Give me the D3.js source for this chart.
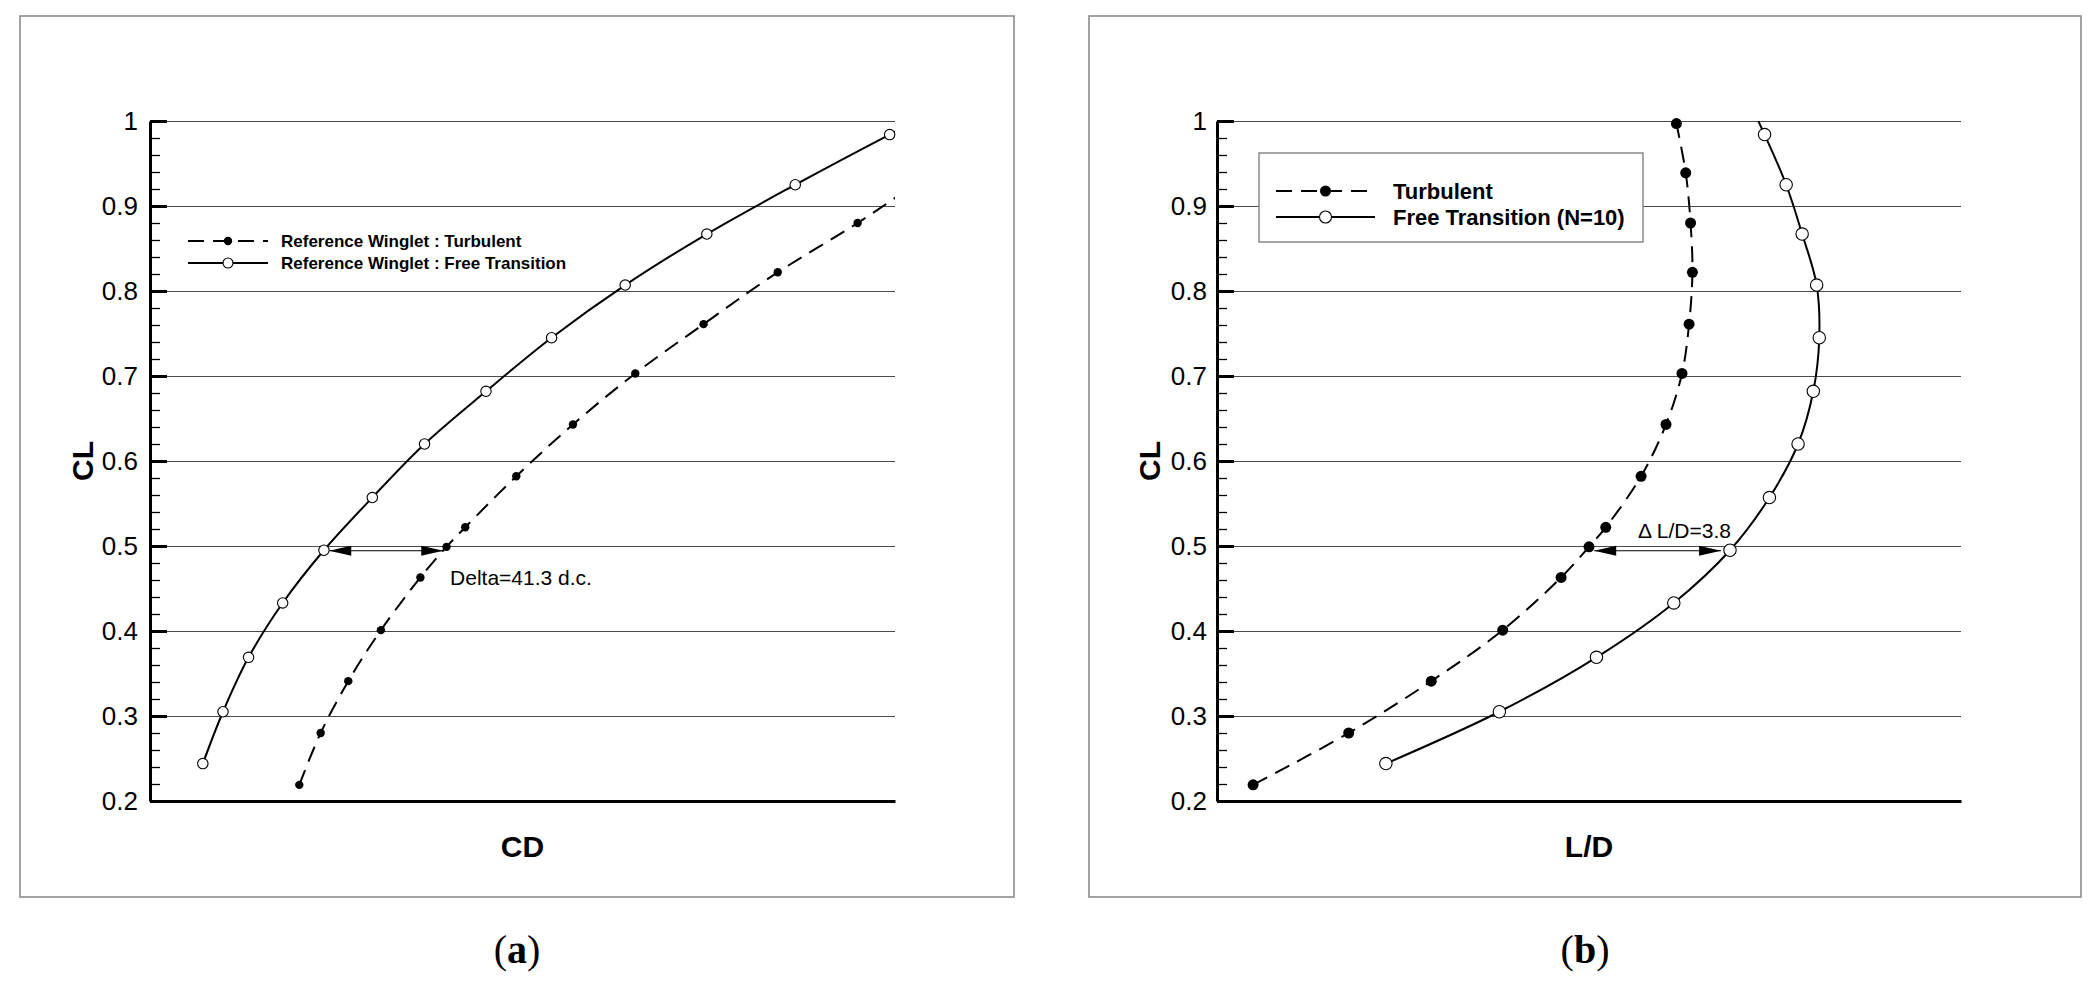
<!DOCTYPE html>
<html>
<head>
<meta charset="utf-8">
<script src="https://cdn.jsdelivr.net/npm/d3@7"></script>
<style>
  body { margin: 0; background: #fff; }
  svg { display: block; }
</style>
</head>
<body>
<svg id="chart" width="2097" height="994"></svg>
<script>
// CL axis ticks
var clTicks = [0.2, 0.3, 0.4, 0.5, 0.6, 0.7, 0.8, 0.9, 1.0];
var clTickLabels = ['0.2', '0.3', '0.4', '0.5', '0.6', '0.7', '0.8', '0.9', '1'];

// Turbulent series (filled markers)
var turbCL = [0.219, 0.280, 0.341, 0.401, 0.463, 0.499, 0.522, 0.582, 0.643, 0.703, 0.761, 0.822, 0.880, 0.939, 0.997];
var turbCD = [0.01963, 0.02035, 0.02128, 0.02238, 0.02371, 0.02459, 0.02522, 0.02694, 0.02885, 0.03095, 0.03325, 0.03575, 0.03844, 0.04100, 0.04400];
var turbLD = [11.27, 13.84, 16.06, 17.98, 19.55, 20.30, 20.75, 21.70, 22.37, 22.80, 22.99, 23.08, 23.03, 22.90, 22.65];

// Free transition series (open markers)
var freeCL = [0.244, 0.305, 0.369, 0.433, 0.495, 0.557, 0.620, 0.682, 0.745, 0.807, 0.867, 0.925, 0.984, 1.046];
var freeCD = [0.01638, 0.01706, 0.01792, 0.01907, 0.02046, 0.02209, 0.02385, 0.02592, 0.02813, 0.03061, 0.03336, 0.03634, 0.03952, 0.04300];
var freeLD = [14.84, 17.89, 20.50, 22.58, 24.09, 25.15, 25.92, 26.33, 26.49, 26.42, 26.03, 25.60, 25.02, 24.35];

// hidden x ranges (no tick labels in the figure)
var cdDomain = [0.0146, 0.0397];
var ldDomain = [10.3, 30.3];
var clDomain = [0.2, 1.0];

var legendA = ['Reference Winglet : Turbulent', 'Reference Winglet : Free Transition'];
var legendB = ['Turbulent', 'Free Transition (N=10)'];

// delta annotations
var deltaA = {cl: 0.4945, from: 0.02064, to: 0.02448, text: 'Delta=41.3 d.c.', tx: 0.02471, ty: 0.4541};
var deltaB = {cl: 0.4945, from: 20.44, to: 23.85, text: '\u0394 L/D=3.8', tx: 21.62, ty: 0.5094};

var svg = d3.select('#chart');
var FONT = '"Liberation Sans", Arial, Helvetica, sans-serif';
var DASH = '16,9';

function arrowHead(g, px, py, dir) {
    // dir: -1 points left, 1 points right
    var len = 22, half = 5;
    g.append('path')
        .attr('d', 'M' + px + ' ' + py + 'L' + (px - dir * len) + ' ' + (py - half) + 'L' + (px - dir * len) + ' ' + (py + half) + 'Z')
        .attr('fill', '#000');
}

function drawPanel(opt) {
    var g = svg.append('g');
    var top = 121, bottom = 801;

    g.append('rect')
        .attr('x', opt.frame[0]).attr('y', 16)
        .attr('width', opt.frame[1] - opt.frame[0]).attr('height', 881)
        .attr('fill', 'none').attr('stroke', '#8c8c8c').attr('stroke-width', 1.6);

    var x = d3.scaleLinear().domain(opt.xDomain).range([opt.left, opt.right]);
    var y = d3.scaleLinear().domain(clDomain).range([bottom, top]);

    // grid
    var grid = d3.axisLeft(y).tickValues(clTicks.slice(1))
        .tickSize(-(opt.right - opt.left)).tickFormat('');
    var gg = g.append('g').attr('transform', 'translate(' + opt.left + ',0)').call(grid);
    gg.select('.domain').remove();
    gg.selectAll('.tick line').attr('stroke', '#4a4a4a').attr('stroke-width', 1.1);

    // minor ticks, four between majors
    var minor = [];
    clTicks.slice(0, -1).forEach(function (t, i) {
        var step = (clTicks[i + 1] - t) / 5;
        for (var k = 1; k < 5; k++) {
            minor.push(t + k * step);
        }
    });
    var gm = g.append('g').attr('transform', 'translate(' + opt.left + ',0)')
        .call(d3.axisLeft(y).tickValues(minor).tickSizeInner(-10).tickSizeOuter(0).tickFormat(''));
    gm.select('.domain').remove();
    gm.selectAll('.tick line').attr('stroke', '#000').attr('stroke-width', 1.3);

    // major ticks + labels
    var ya = d3.axisLeft(y).tickValues(clTicks)
        .tickFormat(function (d, i) { return clTickLabels[i]; })
        .tickSizeInner(-17).tickSizeOuter(0).tickPadding(opt.pad);
    var gy = g.append('g').attr('transform', 'translate(' + opt.left + ',0)').call(ya);
    gy.select('.domain').attr('stroke', '#000').attr('stroke-width', 3);
    gy.selectAll('.tick line').attr('stroke', '#000').attr('stroke-width', 3);
    gy.selectAll('.tick text').attr('font-family', FONT).attr('font-size', 26).attr('fill', '#000');

    // bottom axis (no ticks)
    var gx = g.append('g').attr('transform', 'translate(0,' + bottom + ')')
        .call(d3.axisBottom(x).tickValues([]).tickSizeOuter(0));
    gx.select('.domain').attr('stroke', '#000').attr('stroke-width', 3.2);

    // axis titles
    g.append('text')
        .attr('transform', 'translate(' + opt.clTitleX + ',' + (top + bottom) / 2 + ') rotate(-90)')
        .attr('text-anchor', 'middle').attr('dy', '0.35em')
        .attr('font-family', FONT).attr('font-weight', 'bold').attr('font-size', 30)
        .text('CL');
    g.append('text')
        .attr('x', (opt.left + opt.right) / 2).attr('y', 857)
        .attr('text-anchor', 'middle')
        .attr('font-family', FONT).attr('font-weight', 'bold').attr('font-size', 30)
        .text(opt.xTitle);

    // caption
    var cap = g.append('text')
        .attr('x', (opt.frame[0] + opt.frame[1]) / 2).attr('y', 963)
        .attr('text-anchor', 'middle')
        .attr('font-family', '"Liberation Serif", "Times New Roman", serif').attr('font-size', 40);
    cap.append('tspan').text('(');
    cap.append('tspan').attr('font-weight', 'bold').text(opt.caption);
    cap.append('tspan').text(')');

    // curves
    var clipId = 'clip-' + opt.caption;
    g.append('clipPath').attr('id', clipId).append('rect')
        .attr('x', opt.left).attr('y', top)
        .attr('width', opt.right - opt.left).attr('height', bottom - top);

    var line = d3.line()
        .x(function (d) { return x(d[0]); })
        .y(function (d) { return y(d[1]); })
        .curve(d3.curveCatmullRom.alpha(0.5));

    var turb = opt.turbX.map(function (v, i) { return [v, turbCL[i]]; });
    var free = opt.freeX.map(function (v, i) { return [v, freeCL[i]]; });

    var inside = function (d) {
        return d[0] >= opt.xDomain[0] && d[0] <= opt.xDomain[1] && d[1] >= clDomain[0] && d[1] <= clDomain[1];
    };

    var gc = g.append('g').attr('clip-path', 'url(#' + clipId + ')');
    gc.append('path').datum(turb).attr('d', line)
        .attr('fill', 'none').attr('stroke', '#000').attr('stroke-width', 2).attr('stroke-dasharray', DASH);
    gc.append('path').datum(free).attr('d', line)
        .attr('fill', 'none').attr('stroke', '#000').attr('stroke-width', 2);

    g.selectAll('circle.turb').data(turb.filter(inside)).enter().append('circle')
        .attr('class', 'turb')
        .attr('cx', function (d) { return x(d[0]); })
        .attr('cy', function (d) { return y(d[1]); })
        .attr('r', opt.rFill).attr('fill', '#000');
    g.selectAll('circle.free').data(free.filter(inside)).enter().append('circle')
        .attr('class', 'free')
        .attr('cx', function (d) { return x(d[0]); })
        .attr('cy', function (d) { return y(d[1]); })
        .attr('r', opt.rOpen).attr('fill', '#fff').attr('stroke', '#000').attr('stroke-width', 1.1);

    // delta arrow
    var dl = opt.delta;
    var ay = y(dl.cl);
    var x1 = x(dl.from), x2 = x(dl.to);
    g.append('line').attr('x1', x1).attr('x2', x2).attr('y1', ay).attr('y2', ay)
        .attr('stroke', '#000').attr('stroke-width', 1.1);
    arrowHead(g, x1, ay, -1);
    arrowHead(g, x2, ay, 1);
    g.append('text')
        .attr('x', x(dl.tx)).attr('y', y(dl.ty))
        .attr('font-family', FONT).attr('font-size', opt.deltaSize)
        .text(dl.text);

    // legend
    var lg = opt.legend;
    var leg = g.append('g');
    if (lg.box) {
        leg.append('rect')
            .attr('x', lg.box[0]).attr('y', lg.box[1])
            .attr('width', lg.box[2]).attr('height', lg.box[3])
            .attr('fill', '#fff').attr('stroke', '#777').attr('stroke-width', 1.3);
    }
    lg.labels.forEach(function (label, i) {
        var ly = lg.rows[i];
        leg.append('line')
            .attr('x1', lg.x1).attr('x2', lg.x2).attr('y1', ly).attr('y2', ly)
            .attr('stroke', '#000').attr('stroke-width', 2)
            .attr('stroke-dasharray', i === 0 ? DASH : null);
        leg.append('circle')
            .attr('cx', (lg.x1 + lg.x2) / 2).attr('cy', ly)
            .attr('r', i === 0 ? lg.rFill : lg.rOpen)
            .attr('fill', i === 0 ? '#000' : '#fff')
            .attr('stroke', '#000').attr('stroke-width', i === 0 ? 0 : 1.1);
        leg.append('text')
            .attr('x', lg.tx).attr('y', ly).attr('dy', '0.36em')
            .attr('font-family', FONT).attr('font-weight', 'bold').attr('font-size', lg.size)
            .text(label);
    });
}

drawPanel({
    caption: 'a',
    frame: [20, 1014],
    left: 150, right: 895,
    pad: 12,
    clTitleX: 82,
    xTitle: 'CD',
    xDomain: cdDomain,
    turbX: turbCD,
    freeX: freeCD,
    rFill: 4.2, rOpen: 5.2,
    delta: deltaA,
    deltaSize: 21,
    legend: {
        labels: legendA,
        rows: [241, 263],
        x1: 188, x2: 268, tx: 281,
        rFill: 4.2, rOpen: 5,
        size: 17
    }
});

drawPanel({
    caption: 'b',
    frame: [1089, 2081],
    left: 1217, right: 1961,
    pad: 10,
    clTitleX: 1149,
    xTitle: 'L/D',
    xDomain: ldDomain,
    turbX: turbLD,
    freeX: freeLD,
    rFill: 5.5, rOpen: 6.2,
    delta: deltaB,
    deltaSize: 21,
    legend: {
        labels: legendB,
        box: [1259, 153, 384, 89],
        rows: [191, 217],
        x1: 1276, x2: 1375, tx: 1393,
        rFill: 5.5, rOpen: 6,
        size: 22
    }
});
</script>
</body>
</html>
